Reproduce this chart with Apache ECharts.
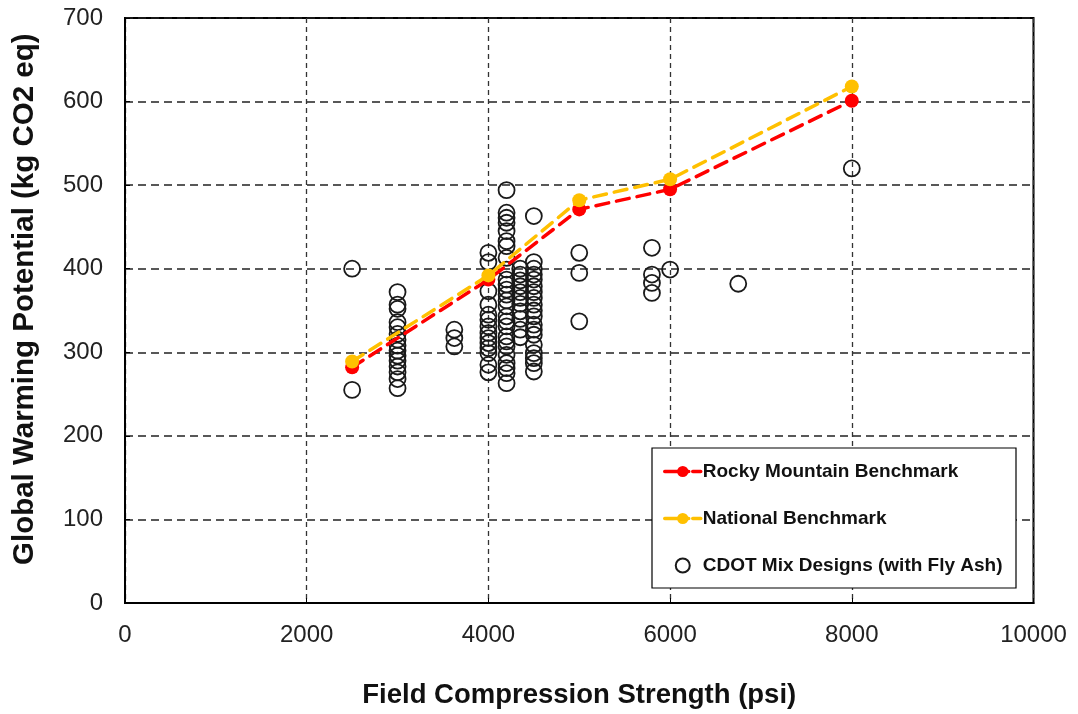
<!DOCTYPE html>
<html>
<head>
<meta charset="utf-8">
<script src="https://cdn.jsdelivr.net/npm/echarts@6/dist/echarts.min.js"></script>
<style>
  html, body { margin: 0; padding: 0; background: #fff; }
  #chart { width: 1078px; height: 714px; }
</style>
</head>
<body>
<div id="chart"></div>
<script>
// Benchmark curves: GWP per cubic yard vs. specified strength
const benchStrength = [2500, 4000, 5000, 6000, 8000];
const rockyMountain = [282, 387, 471, 495, 601];
const national      = [289, 392, 482, 507, 618];

// CDOT mix designs (with fly ash), grouped by field compression strength
const mixStrength = [2500, 3000, 3625, 4000, 4200, 4350, 4500, 5000, 5800, 6000, 6750, 8000];
const mixGwp = [
  [400, 255],
  [372, 357, 352, 336, 330, 322, 315, 308, 302, 296, 290, 283, 276, 268, 257],
  [327, 317, 307],
  [419, 408, 373, 357, 345, 339, 331, 323, 317, 311, 305, 299, 285, 276],
  [494, 467, 461, 455, 445, 433, 427, 413, 399, 387, 381, 375, 369, 362, 355, 343, 337, 331, 319, 313, 307, 297, 287, 281, 275, 263],
  [400, 393, 386, 379, 372, 365, 358, 349, 340, 327, 318],
  [463, 408, 400, 393, 387, 379, 372, 365, 357, 350, 343, 333, 327, 321, 309, 299, 293, 287, 277],
  [419, 395, 337],
  [425, 393, 383, 371],
  [399],
  [382],
  [520]
];

const xTicks = { min: 0, max: 10000, interval: 2000 };
const yTicks = { min: 0, max: 700, interval: 100 };

const FONT = '"Liberation Sans", Arial, sans-serif';

const mixPoints = [];
mixStrength.forEach((s, i) => mixGwp[i].forEach(v => mixPoints.push([s, v])));

const pair = (xs, ys) => xs.map((x, i) => [x, ys[i]]);

const chart = echarts.init(document.getElementById('chart'), null, { renderer: 'canvas' });

chart.setOption({
  backgroundColor: '#ffffff',
  animation: false,
  grid: {
    left: 125, right: 44.5, top: 18, bottom: 110.5,
    show: true, borderColor: '#000', borderWidth: 2, backgroundColor: 'transparent'
  },
  xAxis: {
    type: 'value',
    min: xTicks.min, max: xTicks.max, interval: xTicks.interval,
    name: 'Field Compression Strength (psi)',
    nameLocation: 'middle', nameGap: 78,
    nameTextStyle: { fontFamily: FONT, fontSize: 27.5, fontWeight: 'bold', color: '#111' },
    axisLine: { show: true, lineStyle: { color: '#000', width: 2 } },
    axisTick: { show: true, inside: true, length: 5, lineStyle: { color: '#000', width: 1 } },
    axisLabel: { fontFamily: FONT, fontSize: 24, color: '#222', margin: 20, formatter: v => String(v) },
    splitLine: { show: true, lineStyle: { color: '#333', width: 1.3, type: [5, 4] } }
  },
  yAxis: {
    type: 'value',
    min: yTicks.min, max: yTicks.max, interval: yTicks.interval,
    axisLine: { show: true, lineStyle: { color: '#000', width: 2 } },
    axisTick: { show: true, inside: true, length: 5, lineStyle: { color: '#000', width: 1 } },
    axisLabel: { fontFamily: FONT, fontSize: 24, color: '#222', margin: 22, formatter: v => String(v) },
    splitLine: { show: true, lineStyle: { color: '#222', width: 1.6, type: [8, 5] } }
  },
  graphic: [
    {
      type: 'text', z: 10,
      x: 10, y: 565,
      rotation: Math.PI / 2,
      style: {
        text: 'Global Warming Potential (kg CO2 eq)',
        font: 'bold 29.5px ' + FONT, fill: '#111'
      }
    },
    {
      type: 'rect', z: 3,
      shape: { x: 652, y: 448, width: 364, height: 140 },
      style: { fill: '#fff', stroke: '#000', lineWidth: 1.2 }
    }
  ],
  legend: {
    orient: 'vertical',
    left: 658, top: 457,
    z: 6,
    itemWidth: 36, itemHeight: 14, itemGap: 28,
    textStyle: { fontFamily: FONT, fontSize: 19, fontWeight: 'bold', color: '#111', padding: [0, 0, 0, -3] },
    data: [
      { name: 'Rocky Mountain Benchmark', lineStyle: { width: 3.5, type: [24, 4] } },
      { name: 'National Benchmark', lineStyle: { width: 3.5, type: [24, 4] } },
      { name: 'CDOT Mix Designs (with Fly Ash)' }
    ]
  },
  series: [
    {
      name: 'Rocky Mountain Benchmark',
      type: 'line', z: 4,
      data: pair(benchStrength, rockyMountain),
      symbol: 'circle', symbolSize: 14,
      itemStyle: { color: '#ff0000' },
      lineStyle: { color: '#ff0000', width: 3.5, type: [13, 8], cap: 'round' }
    },
    {
      name: 'National Benchmark',
      type: 'line', z: 5,
      data: pair(benchStrength, national),
      symbol: 'circle', symbolSize: 14,
      itemStyle: { color: '#ffc000' },
      lineStyle: { color: '#ffc000', width: 3.5, type: [13, 8], cap: 'round' }
    },
    {
      name: 'CDOT Mix Designs (with Fly Ash)',
      type: 'scatter', z: 3,
      data: mixPoints,
      symbol: 'circle', symbolSize: 16,
      itemStyle: { color: 'rgba(255,255,255,0)', borderColor: '#1a1a1a', borderWidth: 1.8, opacity: 1 }
    }
  ]
});
</script>
</body>
</html>
